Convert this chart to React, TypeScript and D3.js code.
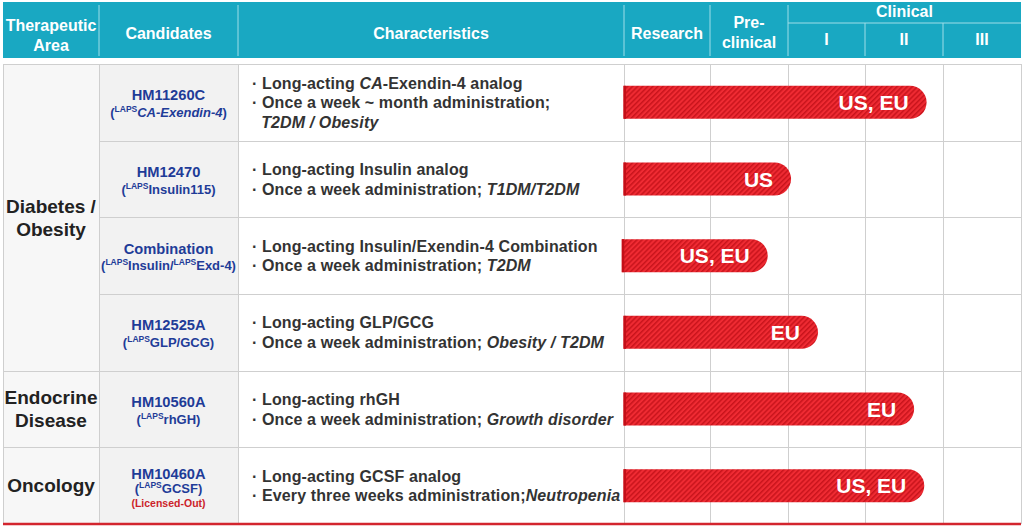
import React from "react";
import * as d3 from "d3";

// ---------- data ----------
const areaNames: string[][] = [["Diabetes /", "Obesity"], ["Endocrine", "Disease"], ["Oncology"]];
const areaRowSpans = [4, 1, 1];

const candidateCodes = ["HM11260C", "HM12470", "Combination", "HM12525A", "HM10560A", "HM10460A"];
type Seg = { t: string; i?: boolean; sup?: boolean };
const candidateSubs: Seg[][] = [
  [{ t: "(" }, { t: "LAPS", sup: true }, { t: "CA-Exendin-4", i: true }, { t: ")" }],
  [{ t: "(" }, { t: "LAPS", sup: true }, { t: "Insulin115)" }],
  [{ t: "(" }, { t: "LAPS", sup: true }, { t: "Insulin/" }, { t: "LAPS", sup: true }, { t: "Exd-4)" }],
  [{ t: "(" }, { t: "LAPS", sup: true }, { t: "GLP/GCG)" }],
  [{ t: "(" }, { t: "LAPS", sup: true }, { t: "rhGH)" }],
  [{ t: "(" }, { t: "LAPS", sup: true }, { t: "GCSF)" }],
];
const candidateNotes = ["", "", "", "", "", "(Licensed-Out)"];

const characteristics: Seg[][][] = [
  [
    [{ t: "· Long-acting " }, { t: "CA", i: true }, { t: "-Exendin-4 analog" }],
    [{ t: "· Once a week ~ month administration;" }],
    [{ t: "  " }, { t: "T2DM / Obesity", i: true }],
  ],
  [
    [{ t: "· Long-acting Insulin analog" }],
    [{ t: "· Once a week administration; " }, { t: "T1DM/T2DM", i: true }],
  ],
  [
    [{ t: "· Long-acting Insulin/Exendin-4 Combination" }],
    [{ t: "· Once a week administration; " }, { t: "T2DM", i: true }],
  ],
  [
    [{ t: "· Long-acting GLP/GCG" }],
    [{ t: "· Once a week administration; " }, { t: "Obesity / T2DM", i: true }],
  ],
  [
    [{ t: "· Long-acting rhGH" }],
    [{ t: "· Once a week administration; " }, { t: "Growth disorder", i: true }],
  ],
  [
    [{ t: "· Long-acting GCSF analog" }],
    [{ t: "· Every three weeks administration;" }, { t: "Neutropenia", i: true }],
  ],
];

// progress in stage units: 0 = start of Research, 1 = end Research, 2 = end Pre-clinical, 3 = end Phase I, 4 = end Phase II, 5 = end Phase III
const stageStart = [0, 0, -0.02, 0, 0, 0];
const stageEnd = [3.79, 2.04, 1.74, 2.39, 3.63, 3.76];
const markets = ["US, EU", "US", "US, EU", "EU", "EU", "US, EU"];

const columnHeaders = [["Therapeutic", "Area"], ["Candidates"], ["Characteristics"], ["Research"], ["Pre-", "clinical"]];
const clinicalHeader = "Clinical";
const phaseHeaders = ["I", "II", "III"];

// ---------- layout ----------
const W = 1024;
const H = 528;
const COLS = [3, 99, 238, 624, 710, 788, 865, 943, 1021];
const HEADER_BASES = [30.5, 38.5, 38.5, 38.5, 27.5];
const HEAD_TOP = 2;
const HEAD_BOTTOM = 58;
const HEAD_MID = 23;
const BODY_TOP = 64;
const BODY_BOTTOM = 524;
const FONT = "Liberation Sans, Arial, Helvetica, sans-serif";
const TEAL = "#19a8c2";
const GRID = "#cfcfcf";

const x = d3.scaleLinear().domain([0, 1, 2, 3, 4, 5]).range(COLS.slice(3));
const rows = d3.range(candidateCodes.length);
const y = d3.scaleBand<number>().domain(rows).range([BODY_TOP, BODY_BOTTOM]).paddingInner(0);

function renderSegs(segs: Seg[], size: number, supSize: number) {
  const out: React.ReactNode[] = [];
  let raised = false;
  segs.forEach((s, k) => {
    if (s.sup) {
      out.push(
        <tspan key={k} fontSize={supSize} dy={raised ? 0 : -5}>
          {s.t}
        </tspan>
      );
      raised = true;
    } else {
      out.push(
        <tspan key={k} fontSize={size} fontStyle={s.i ? "italic" : "normal"} dy={raised ? 5 : 0}>
          {s.t}
        </tspan>
      );
      raised = false;
    }
  });
  return out;
}

function barPath(x0: number, x1: number, cy: number, h: number) {
  const r = h / 2;
  const p = d3.path();
  p.moveTo(x0, cy - r);
  p.lineTo(x1 - r, cy - r);
  p.arc(x1 - r, cy, r, -Math.PI / 2, Math.PI / 2, false);
  p.lineTo(x0, cy + r);
  p.closePath();
  return p.toString();
}

export default function App() {
  const band = y.bandwidth();
  let acc = 0;
  const groups = areaRowSpans.map((span, gi) => {
    const start = acc;
    acc += span;
    return { names: areaNames[gi], y0: y(start)!, y1: y(start + span - 1)! + band };
  });

  return (
    <svg
      width={W}
      height={H}
      style={{ position: "absolute", left: 0, top: 0, display: "block", background: "#fff" }}
      fontFamily={FONT}
    >
      <defs>
        <pattern id="stripes" width="3.6" height="3.6" patternUnits="userSpaceOnUse" patternTransform="rotate(45)">
          <rect width="3.6" height="3.6" fill="#ef2b33" />
          <rect width="1.5" height="3.6" fill="#c9141c" />
        </pattern>
      </defs>

      {/* header */}
      <rect x={COLS[0]} y={HEAD_TOP} width={COLS[8] - COLS[0]} height={HEAD_BOTTOM - HEAD_TOP} fill={TEAL} />
      {[1, 2, 3, 4, 5].map((c) => (
        <line key={c} x1={COLS[c]} x2={COLS[c]} y1={HEAD_TOP + 3} y2={HEAD_BOTTOM - 2} stroke="#9fdde8" strokeWidth={1} />
      ))}
      {[6, 7].map((c) => (
        <line key={c} x1={COLS[c]} x2={COLS[c]} y1={HEAD_MID} y2={HEAD_BOTTOM - 2} stroke="#9fdde8" strokeWidth={1} />
      ))}
      <line x1={COLS[5]} x2={COLS[8]} y1={HEAD_MID} y2={HEAD_MID} stroke="#9fdde8" strokeWidth={1} />
      <g fill="#fff" fontWeight="bold" fontSize={16} textAnchor="middle">
        {columnHeaders.map((lines, ci) => {
          const cx = (COLS[ci] + COLS[ci + 1]) / 2;
          return (
            <text key={ci} x={cx} y={HEADER_BASES[ci]}>
              {lines.map((l, li) => (
                <tspan key={li} x={cx} dy={li === 0 ? 0 : 20}>
                  {l}
                </tspan>
              ))}
            </text>
          );
        })}
        <text x={(COLS[5] + COLS[8]) / 2} y={16.5}>
          {clinicalHeader}
        </text>
        {phaseHeaders.map((p, pi) => (
          <text key={p} x={(COLS[5 + pi] + COLS[6 + pi]) / 2} y={45}>
            {p}
          </text>
        ))}
      </g>

      {/* body backgrounds */}
      <rect x={COLS[0]} y={BODY_TOP} width={COLS[1] - COLS[0]} height={BODY_BOTTOM - BODY_TOP} fill="#f7f7f7" />
      <rect x={COLS[1]} y={BODY_TOP} width={COLS[2] - COLS[1]} height={BODY_BOTTOM - BODY_TOP} fill="#f2f2f2" />

      {/* grid */}
      <g stroke={GRID} strokeWidth={1} shapeRendering="crispEdges">
        {COLS.map((c, i) => (
          <line key={i} x1={c} x2={c} y1={BODY_TOP} y2={BODY_BOTTOM} />
        ))}
        <line x1={COLS[0]} x2={COLS[8]} y1={BODY_TOP} y2={BODY_TOP} />
        {rows.slice(1).map((r) => {
          const yy = Math.round(y(r)!);
          const inGroup = groups.some((g) => yy > g.y0 + 1 && yy < g.y1 - 1);
          return <line key={r} x1={inGroup ? COLS[1] : COLS[0]} x2={COLS[8]} y1={yy} y2={yy} />;
        })}
      </g>

      {/* therapeutic areas */}
      <g fill="#222" fontWeight="bold" fontSize={19} textAnchor="middle">
        {groups.map((g, gi) => {
          const cy = (g.y0 + g.y1) / 2;
          const cx = (COLS[0] + COLS[1]) / 2;
          const lh = 23;
          const first = cy + 6.8 - ((g.names.length - 1) * lh) / 2;
          return (
            <text key={gi} x={cx} y={first}>
              {g.names.map((n, ni) => (
                <tspan key={ni} x={cx} dy={ni === 0 ? 0 : lh}>
                  {n}
                </tspan>
              ))}
            </text>
          );
        })}
      </g>

      {/* candidates */}
      <g fontWeight="bold" textAnchor="middle">
        {rows.map((r) => {
          const cy = y(r)! + band / 2;
          const cx = (COLS[1] + COLS[2]) / 2;
          const hasNote = candidateNotes[r] !== "";
          const codeY = hasNote ? cy - 7 : cy - 2;
          const subY = hasNote ? cy + 7 : cy + 14.5;
          return (
            <g key={r}>
              <text x={cx} y={codeY} fill="#1f3c98" fontSize={14.7}>
                {candidateCodes[r]}
              </text>
              <text x={cx} y={subY} fill="#1f3c98" fontSize={13}>
                {renderSegs(candidateSubs[r], 13, 8.5)}
              </text>
              {hasNote && (
                <text x={cx} y={cy + 21} fill="#cc1f2a" fontSize={10.5}>
                  {candidateNotes[r]}
                </text>
              )}
            </g>
          );
        })}
      </g>

      {/* characteristics */}
      <g fontWeight="bold" fill="#333" fontSize={16} letterSpacing={0.12}>
        {rows.map((r) => {
          const cy = y(r)! + band / 2;
          const lines = characteristics[r];
          const lh = 19.5;
          const first = cy + 5.8 - ((lines.length - 1) * lh) / 2;
          return (
            <g key={r}>
              {lines.map((segs, li) => (
                <text key={li} x={COLS[2] + 14} y={first + li * lh} xmlSpace="preserve" style={{ whiteSpace: "pre" }}>
                  {segs.map((s, k) => (
                    <tspan key={k} fontStyle={s.i ? "italic" : "normal"}>
                      {s.t}
                    </tspan>
                  ))}
                </text>
              ))}
            </g>
          );
        })}
      </g>

      {/* bars */}
      {rows.map((r) => {
        const cy = y(r)! + band / 2;
        const h = 33;
        const x0 = x(stageStart[r]) - 0.5;
        const x1 = x(stageEnd[r]);
        return (
          <g key={r}>
            <path d={barPath(x0, x1, cy, h)} fill="url(#stripes)" />
            <rect x={x0} y={cy - h / 2} width={2.5} height={h} fill="#c40f18" />
            <text x={x1 - 18} y={cy + 7.5} textAnchor="end" fill="#fff" fontWeight="bold" fontSize={21}>
              {markets[r]}
            </text>
          </g>
        );
      })}

      {/* bottom red rule */}
      <line x1={COLS[0]} x2={COLS[8]} y1={BODY_BOTTOM} y2={BODY_BOTTOM} stroke="#d3252e" strokeWidth={2.5} />
    </svg>
  );
}
